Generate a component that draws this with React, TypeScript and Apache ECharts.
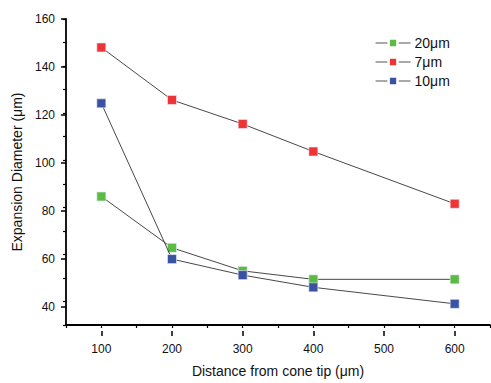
import React, { useEffect, useRef } from "react";
import * as echarts from "echarts";

const distances = [100, 200, 300, 400, 600];
const d20 = [84.6, 62.8, 53, 49.4, 49.4];
const d7 = [147.9, 125.6, 115.4, 103.7, 81.5];
const d10 = [124.2, 58, 51.2, 46, 39];
const seriesNames = ["20μm", "7μm", "10μm"];
const seriesColors = ["#5cbb45", "#ee3434", "#3a52a3"];

const X_MIN = 50;
const X_MAX = 650;
const Y_MIN = 30;
const Y_MAX = 160;

export default function App() {
  const ref = useRef<HTMLDivElement>(null);
  useEffect(() => {
    document.body.style.margin = "0";
    if (!ref.current) return;
    const chart = echarts.init(ref.current, null, { renderer: "svg" });
    const font = "Liberation Sans, Arial, sans-serif";
    const datasets = [d20, d7, d10];
    const W = 491;
    const H = 383;
    const gl = 66, gr = 1, gt = 19, gb = 52;
    const pw = W - gl - gr;
    const ph = H - gt - gb;
    const px = (v: number) => gl + ((v - X_MIN) / (X_MAX - X_MIN)) * pw;
    const py = (v: number) => gt + ((Y_MAX - v) / (Y_MAX - Y_MIN)) * ph;
    const hidden = { show: false };
    const labelStyle = { fontSize: 12, color: "#111", fontFamily: font };
    chart.setOption({
      animation: false,
      backgroundColor: "#ffffff",
      textStyle: { fontFamily: font },
      grid: [
        { left: gl, right: gr, top: gt, bottom: gb },
        { left: px(100), right: W - px(600), top: gt, bottom: gb },
        { left: gl, right: gr, top: gt, bottom: H - py(40) },
      ],
      legend: {
        top: 36,
        left: 375,
        padding: 0,
        orient: "vertical",
        itemWidth: 35,
        itemHeight: 11,
        itemGap: 5,
        itemStyle: { borderColor: "#ffffff", borderWidth: 2.5 },
        lineStyle: { color: "#555", width: 1.1 },
        textStyle: { fontSize: 14, color: "#111", fontFamily: font, padding: [0, 0, 0, -1] },
        data: seriesNames,
      },
      xAxis: [
        {
          gridIndex: 0,
          type: "value",
          min: X_MIN,
          max: X_MAX,
          interval: 50,
          name: "Distance from cone tip (μm)",
          nameLocation: "middle",
          nameGap: 39,
          nameTextStyle: { fontSize: 14, color: "#111", fontFamily: font },
          axisLine: { lineStyle: { color: "#000", width: 1.8 } },
          axisTick: { length: 3, lineStyle: { color: "#000", width: 1.2 } },
          axisLabel: hidden,
          splitLine: hidden,
        },
        {
          gridIndex: 1,
          type: "value",
          min: 100,
          max: 600,
          interval: 100,
          axisLine: hidden,
          axisTick: { length: 5, lineStyle: { color: "#000", width: 1.5 } },
          axisLabel: { ...labelStyle, margin: 12 },
          splitLine: hidden,
        },
        { gridIndex: 2, type: "value", min: 0, max: 1, show: false },
      ],
      yAxis: [
        {
          gridIndex: 0,
          type: "value",
          min: Y_MIN,
          max: Y_MAX,
          interval: 10,
          name: "Expansion Diameter (μm)",
          nameLocation: "middle",
          nameGap: 42,
          nameTextStyle: { fontSize: 14, color: "#111", fontFamily: font },
          axisLine: { show: true, lineStyle: { color: "#000", width: 1.8 } },
          axisTick: { show: true, length: 3, lineStyle: { color: "#000", width: 1.2 } },
          axisLabel: hidden,
          splitLine: hidden,
        },
        { gridIndex: 1, type: "value", min: 0, max: 1, show: false },
        {
          gridIndex: 2,
          type: "value",
          min: 40,
          max: 160,
          interval: 20,
          axisLine: hidden,
          axisTick: { show: true, length: 5, lineStyle: { color: "#000", width: 1.5 } },
          axisLabel: { ...labelStyle, margin: 11 },
          splitLine: hidden,
        },
      ],
      series: datasets.map((d, i) => ({
        name: seriesNames[i],
        type: "line",
        xAxisIndex: 0,
        yAxisIndex: 0,
        data: distances.map((x, j) => [x, d[j]]),
        symbol: "rect",
        symbolSize: 9,
        itemStyle: { color: seriesColors[i], borderColor: "#e8eef8", borderWidth: 0.6 },
        lineStyle: { color: "#333", width: 0.9 },
        z: 2 + i,
      })),
    });
    return () => chart.dispose();
  }, []);
  return <div ref={ref} style={{ width: 491, height: 383 }} />;
}
